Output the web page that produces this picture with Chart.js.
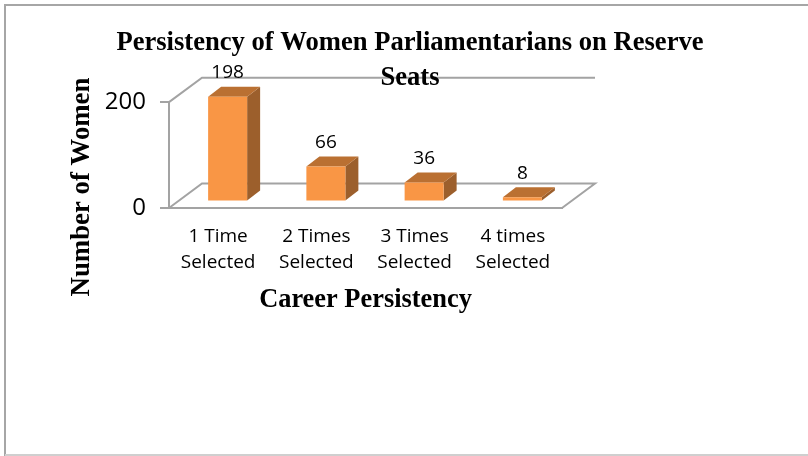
<!DOCTYPE html>
<html>
<head>
<meta charset="utf-8">
<style>
    html, body { margin: 0; padding: 0; background: #fff; }
    canvas { display: block; }
</style>
<script src="https://cdn.jsdelivr.net/npm/chart.js@4"></script>
</head>
<body>
<canvas id="chart" width="808" height="456"></canvas>
<script>
const categories = [["1 Time", "Selected"], ["2 Times", "Selected"], ["3 Times", "Selected"], ["4 times", "Selected"]];
const womenCounts = [198, 66, 36, 8];
const yTicks = [0, 200];
const chartTitle = ["Persistency of Women Parliamentarians on Reserve", "Seats"];
const xTitle = "Career Persistency";
const yTitle = "Number of Women";

const lineColor = '#a3a3a3';
const serif = '"Liberation Serif", serif';
const sans = '"Open Sans", sans-serif';

// fake 3D: back wall offset, and bars sit mid way on the floor
const wallX = 33, wallY = -24.5;
const barShiftX = 9.5, barShiftY = -6.5;
const depthX = 13, depthY = -10;

function poly(ctx, pts, color) {
    ctx.fillStyle = color;
    ctx.beginPath();
    pts.forEach((p, i) => i ? ctx.lineTo(p[0], p[1]) : ctx.moveTo(p[0], p[1]));
    ctx.closePath();
    ctx.fill();
}

const frame3d = {
    id: 'frame3d',
    afterLayout(chart) {
        // title is centred on the page, not on the small plot
        chart.titleBlock.left = 12;
        chart.titleBlock.right = 808;
    },
    beforeDraw(chart) {
        const ctx = chart.ctx, y = chart.scales.y, a = chart.chartArea;
        ctx.save();
        // outer picture border
        ctx.strokeStyle = '#a6a6a6';
        ctx.lineWidth = 2;
        ctx.beginPath();
        ctx.moveTo(5, 456);
        ctx.lineTo(5, 5);
        ctx.lineTo(808, 5);
        ctx.stroke();
        ctx.strokeStyle = '#cfcfcf';
        ctx.beginPath();
        ctx.moveTo(5, 455);
        ctx.lineTo(808, 455);
        ctx.stroke();

        // walls and floor
        const top = y.getPixelForValue(200), bottom = y.getPixelForValue(0);
        ctx.strokeStyle = lineColor;
        ctx.beginPath();
        ctx.moveTo(a.left, top);
        ctx.lineTo(a.left + wallX, top + wallY);
        ctx.lineTo(a.right + wallX, top + wallY);
        ctx.moveTo(a.left, bottom);
        ctx.lineTo(a.left + wallX, bottom + wallY);
        ctx.lineTo(a.right + wallX, bottom + wallY);
        ctx.lineTo(a.right, bottom);
        ctx.stroke();
        ctx.restore();
    },
    beforeDatasetsDraw(chart) {
        const ctx = chart.ctx;
        ctx.save();
        ctx.translate(barShiftX, barShiftY);
        chart.getDatasetMeta(0).data.forEach(bar => {
            const r = bar.x + bar.width / 2, l = bar.x - bar.width / 2;
            poly(ctx, [[r, bar.y], [r + depthX, bar.y + depthY], [r + depthX, bar.base + depthY], [r, bar.base]], '#9c5f2c');
            poly(ctx, [[l, bar.y], [l + depthX, bar.y + depthY], [r + depthX, bar.y + depthY], [r, bar.y]], '#ba7032');
        });
    },
    afterDatasetsDraw(chart) {
        const ctx = chart.ctx;
        ctx.restore();
        ctx.save();
        ctx.fillStyle = '#000';
        ctx.textAlign = 'center';
        ctx.textBaseline = 'middle';
        ctx.font = '19px ' + sans;
        chart.getDatasetMeta(0).data.forEach((bar, i) => {
            ctx.fillText(womenCounts[i], bar.x + barShiftX, bar.y + barShiftY - 24);
        });
        // y title sits lower than the axis centre, so not the scale's own title
        ctx.translate(82, 187);
        ctx.rotate(-Math.PI / 2);
        ctx.font = 'bold 26.8px ' + serif;
        ctx.fillText(yTitle, 0, 0);
        ctx.restore();
    }
};

new Chart(document.getElementById('chart'), {
    type: 'bar',
    data: {
        labels: categories,
        datasets: [{
            data: womenCounts,
            backgroundColor: '#f99645',
            categoryPercentage: 1,
            barPercentage: 0.397,
            clip: false
        }]
    },
    options: {
        responsive: false,
        animation: false,
        layout: { padding: { left: 69, right: 246, top: 26, bottom: 0 } },
        plugins: {
            legend: { display: false },
            tooltip: { enabled: false },
            title: {
                display: true,
                text: chartTitle,
                color: '#000',
                font: { family: serif, size: 26.6, weight: 'bold', lineHeight: 1.3 },
                padding: { top: 0, bottom: 7 }
            }
        },
        scales: {
            x: {
                afterFit(scale) { scale.height = 248; },
                grid: { drawOnChartArea: false, drawTicks: false },
                border: { color: lineColor, width: 2 },
                ticks: {
                    color: '#000',
                    padding: 16,
                    maxRotation: 0,
                    font: { family: sans, size: 19, lineHeight: 1.37 }
                },
                title: {
                    display: true,
                    text: xTitle,
                    color: '#000',
                    font: { family: serif, size: 26.4, weight: 'bold' },
                    padding: { top: 10, bottom: 140 }
                }
            },
            y: {
                min: 0,
                max: 200,
                afterFit(scale) { scale.width = 100; },
                afterBuildTicks(scale) { scale.ticks = yTicks.map(v => ({ value: v })); },
                grid: { drawOnChartArea: false, drawTicks: true, tickLength: 9, color: lineColor, lineWidth: 2 },
                border: { color: lineColor, width: 2 },
                ticks: {
                    color: '#000',
                    padding: 14,
                    font: { family: sans, size: 24 }
                }
            }
        }
    },
    plugins: [frame3d]
});
</script>
</body>
</html>
